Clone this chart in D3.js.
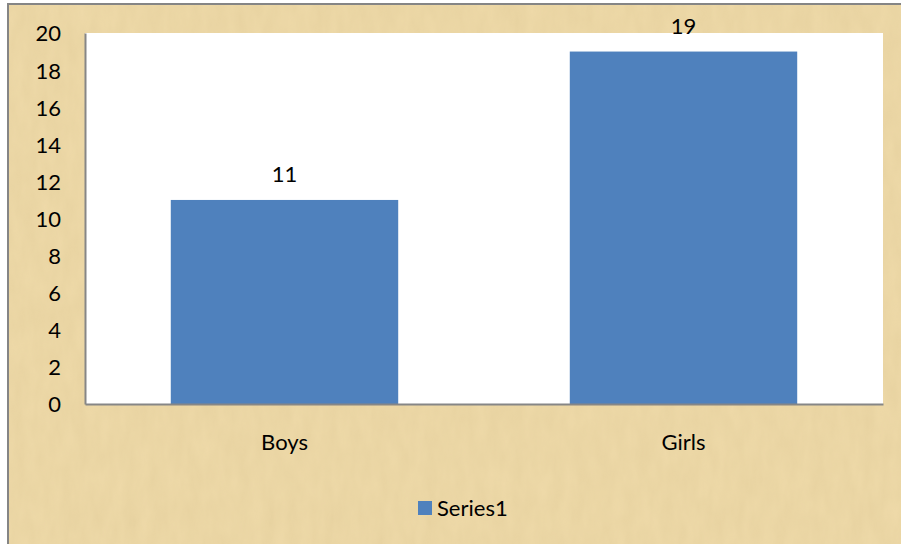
<!DOCTYPE html>
<html lang="en">
<head>
  <meta charset="UTF-8">
  <title>Boys and Girls</title>
  <script src="https://d3js.org/d3.v7.min.js"></script>
  <style>
    body { margin: 0; background: #fff; }
    text { font-family: Lato, "Open Sans", sans-serif; fill: #000; }
  </style>
</head>
<body>
  <div id="viz"></div>
  <script>
    // chart data
    var categories = ["Boys", "Girls"];
    var values = [11, 19];
    var seriesName = "Series1";
    var yTicks = [0, 2, 4, 6, 8, 10, 12, 14, 16, 18, 20];

    var width = 901, height = 544;
    var plot = { left: 85, right: 883, top: 33, bottom: 404 };
    var fontSize = "22px";

    var svg = d3.select("#viz").append("svg")
      .attr("width", width)
      .attr("height", height);

    // papyrus-like texture
    var defs = svg.append("defs");
    var f = defs.append("filter").attr("id", "paper")
      .attr("x", 0).attr("y", 0).attr("width", "100%").attr("height", "100%");
    f.append("feTurbulence")
      .attr("type", "fractalNoise")
      .attr("baseFrequency", "0.08 0.03")
      .attr("numOctaves", 3)
      .attr("seed", 4)
      .attr("result", "noise");
    f.append("feColorMatrix")
      .attr("in", "noise")
      .attr("type", "matrix")
      .attr("values", "0 0 0 0 0.6  0 0 0 0 0.47  0 0 0 0 0.22  0 0 0 0.45 -0.05")
      .attr("result", "tint");
    f.append("feComposite").attr("in", "tint").attr("in2", "SourceGraphic").attr("operator", "in");

    svg.append("rect")
      .attr("x", 8).attr("y", 4)
      .attr("width", width).attr("height", height)
      .attr("fill", "#eed9a8")
      .attr("stroke", "#858585")
      .attr("stroke-width", 2);
    svg.append("rect")
      .attr("x", 9).attr("y", 5)
      .attr("width", width).attr("height", height)
      .attr("fill", "#eed9a8")
      .attr("filter", "url(#paper)")
      .attr("opacity", 0.5);

    // plot area
    svg.append("rect")
      .attr("x", plot.left).attr("y", plot.top)
      .attr("width", plot.right - plot.left)
      .attr("height", plot.bottom - plot.top)
      .attr("fill", "#fff");

    var x = d3.scaleBand()
      .domain(categories)
      .range([plot.left, plot.right])
      .paddingInner(0.43)
      .paddingOuter(0.215);

    var y = d3.scaleLinear()
      .domain([0, 20])
      .range([plot.bottom, plot.top]);

    // bars
    svg.selectAll(".bar")
      .data(values)
      .enter().append("rect")
      .attr("class", "bar")
      .attr("x", function(d, i) { return x(categories[i]); })
      .attr("y", function(d) { return y(d); })
      .attr("width", x.bandwidth())
      .attr("height", function(d) { return y(0) - y(d); })
      .attr("fill", "#4f81bd");

    // value labels
    svg.selectAll(".val")
      .data(values)
      .enter().append("text")
      .attr("class", "val")
      .attr("x", function(d, i) { return x(categories[i]) + x.bandwidth() / 2; })
      .attr("y", function(d) { return y(d) - 18; })
      .attr("text-anchor", "middle")
      .style("font-size", fontSize)
      .text(function(d) { return d; });

    // y axis
    var yAxis = svg.append("g")
      .attr("transform", "translate(" + plot.left + ",0)")
      .call(d3.axisLeft(y).tickValues(yTicks).tickSize(0).tickPadding(24));
    yAxis.select(".domain").attr("stroke", "#868686").attr("stroke-width", 2);
    yAxis.selectAll("text").style("font-size", fontSize).attr("dy", "0.36em");

    // x axis
    var xAxis = svg.append("g")
      .attr("transform", "translate(0," + plot.bottom + ")")
      .call(d3.axisBottom(x).tickSize(0).tickPadding(30));
    xAxis.select(".domain").attr("stroke", "#868686").attr("stroke-width", 2);
    xAxis.selectAll("text").style("font-size", fontSize);

    // legend
    var legend = svg.append("g").attr("transform", "translate(418,501)");
    legend.append("rect")
      .attr("width", 14).attr("height", 14)
      .attr("fill", "#4f81bd");
    legend.append("text")
      .attr("x", 19).attr("y", 15)
      .style("font-size", fontSize)
      .text(seriesName);
  </script>
</body>
</html>
